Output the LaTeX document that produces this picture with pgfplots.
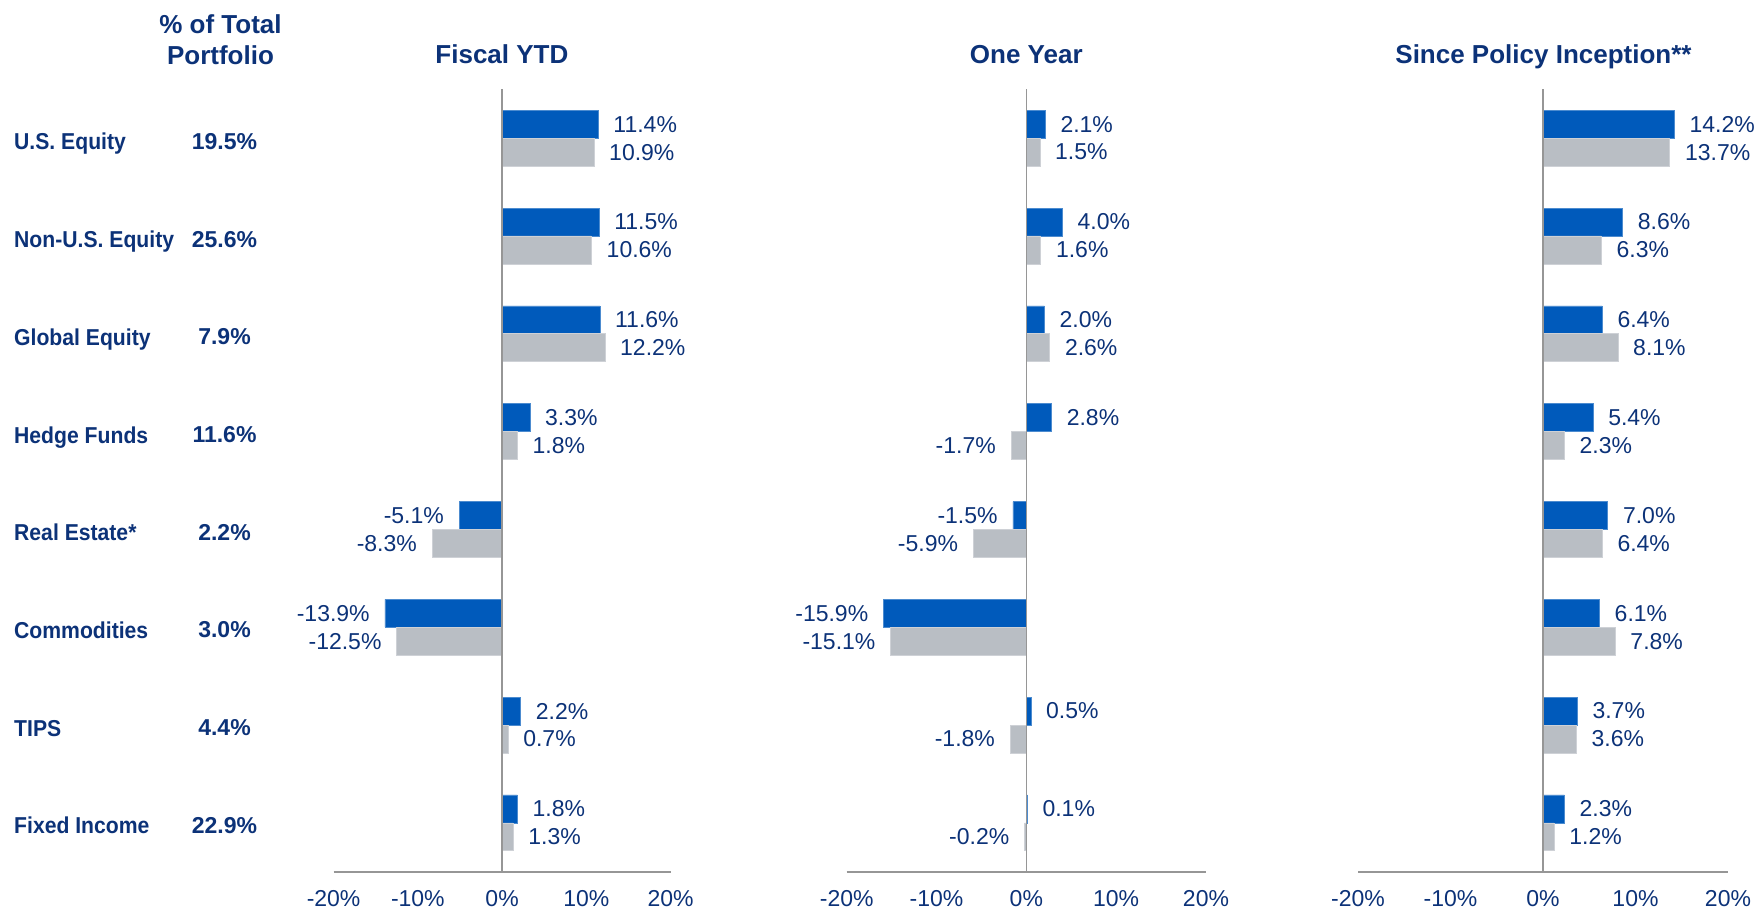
\documentclass[border=0pt]{standalone}
\usepackage{fontspec}
\setmainfont{Liberation Sans}
\newfontfamily\catfont[FakeStretch=0.92]{Liberation Sans}
\usepackage{pgfplots}
\pgfplotsset{compat=1.18}
\definecolor{barblue}{RGB}{0,90,187}
\definecolor{bargray}{RGB}{185,190,196}
\definecolor{txt}{RGB}{12,50,120}
\definecolor{axisgray}{RGB}{150,150,150}
\pgfplotsset{
 panel/.style={
  scale only axis, height=782.4pt,
  xmin=-20, xmax=20, ymin=-0.5, ymax=7.5,
  xbar, bar width=0.285,
  axis x line*=bottom, axis y line=none,
  x axis line style={draw=axisgray, line width=2pt, -},
  xtick={-20,-10,0,10,20}, ytick=\empty,
  major tick length=0pt,
  xticklabel={\pgfmathprintnumber[assume math mode=true]{\tick}\%},
  xticklabel style={anchor=base, yshift=-34.3pt, font=\fontsize{23}{27}\selectfont, text=txt, inner sep=0pt},
  clip=false,
  point meta=x,
  nodes near coords={\pgfmathprintnumber[fixed,fixed zerofill,precision=1,assume math mode=true]{\pgfplotspointmeta}\%},
  nodes near coords align=horizontal,
  every node near coord/.append style={font=\fontsize{23}{27}\selectfont, text=txt, inner xsep=15pt, inner ysep=0pt},
 },
 blueb/.style={fill=barblue, draw=barblue!70!white, line width=0.6pt, bar shift=0.1425},
 grayb/.style={fill=bargray, draw=bargray!70!white, line width=0.6pt, bar shift=-0.1425},
}
\begin{document}
\begin{tikzpicture}[x=1pt,y=1pt]
\useasboundingbox (0,0) rectangle (1759,911);

% Fiscal YTD
\begin{axis}[panel, width=337pt, at={(333.6pt,39.3pt)}, anchor=south west]
\addplot[blueb] coordinates {(11.4,7) (11.5,6) (11.6,5) (3.3,4) (-5.1,3) (-13.9,2) (2.2,1) (1.8,0)};
\addplot[grayb] coordinates {(10.9,7) (10.6,6) (12.2,5) (1.8,4) (-8.3,3) (-12.5,2) (0.7,1) (1.3,0)};
\draw[axisgray, line width=1.5pt] (axis cs:0,-0.5) -- (axis cs:0,7.5);
\end{axis}

% One Year
\begin{axis}[panel, width=359.3pt, at={(846.7pt,39.3pt)}, anchor=south west]
\addplot[blueb] coordinates {(2.1,7) (4.0,6) (2.0,5) (2.8,4) (-1.5,3) (-15.9,2) (0.5,1) (0.1,0)};
\addplot[grayb] coordinates {(1.5,7) (1.6,6) (2.6,5) (-1.7,4) (-5.9,3) (-15.1,2) (-1.8,1) (-0.2,0)};
\draw[axisgray, line width=1.5pt] (axis cs:0,-0.5) -- (axis cs:0,7.5);
\end{axis}

% Since Policy Inception
\begin{axis}[panel, width=370pt, at={(1358pt,39.3pt)}, anchor=south west]
\addplot[blueb] coordinates {(14.2,7) (8.6,6) (6.4,5) (5.4,4) (7.0,3) (6.1,2) (3.7,1) (2.3,0)};
\addplot[grayb] coordinates {(13.7,7) (6.3,6) (8.1,5) (2.3,4) (6.4,3) (7.8,2) (3.6,1) (1.2,0)};
\draw[axisgray, line width=1.5pt] (axis cs:0,-0.5) -- (axis cs:0,7.5);
\end{axis}

% headers
\begin{scope}[every node/.style={anchor=base, inner sep=0pt, text=txt, font=\bfseries\fontsize{26}{30}\selectfont}]
\node at (220.5,877.7) {\% of Total};
\node at (220.5,846) {Portfolio};
\node at (501.9,847) {Fiscal YTD};
\node at (1026.3,847) {One Year};
\node at (1543.5,847) {Since Policy Inception**};
\end{scope}

% category labels and weights
\foreach \name/\pct [count=\k from 0] in {U.S. Equity/19.5, Non-U.S. Equity/25.6, Global Equity/7.9, Hedge Funds/11.6, Real Estate*/2.2, Commodities/3.0, TIPS/4.4, Fixed Income/22.9}{
  \node[anchor=base west, inner sep=0pt, text=txt, font=\catfont\bfseries\fontsize{23}{27}\selectfont] at (14,{761-97.7*\k}) {\name};
  \node[anchor=base, inner sep=0pt, text=txt, font=\bfseries\fontsize{23}{27}\selectfont] at (224.5,{761.5-97.7*\k}) {\pct\%};
}
\end{tikzpicture}
\end{document}
